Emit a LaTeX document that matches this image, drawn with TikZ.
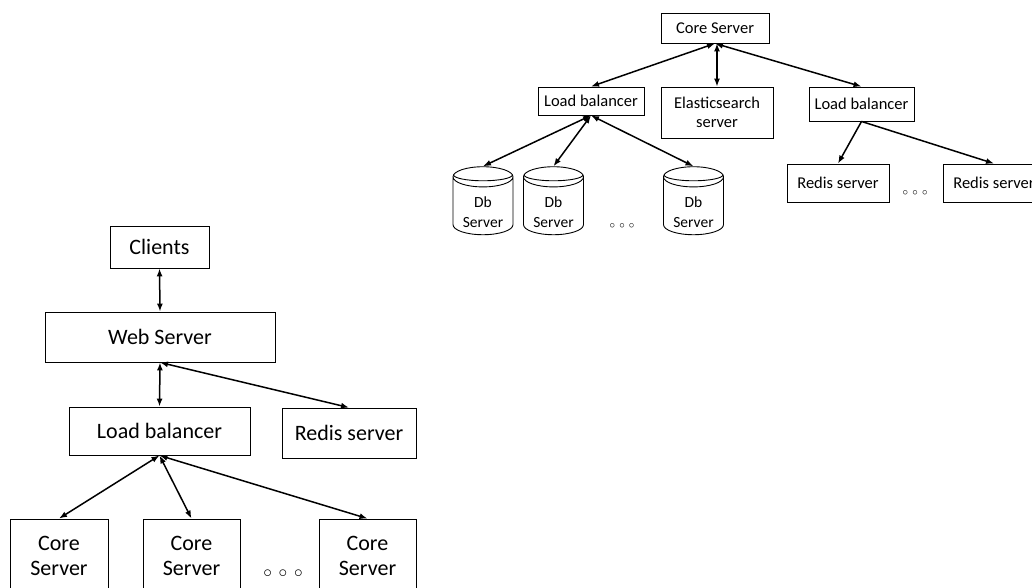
\documentclass[tikz,border=0pt]{standalone}
\usepackage{fontspec}
\setmainfont{Carlito}
\usetikzlibrary{shapes,arrows.meta,positioning}

\newcommand{\dbtext}{\raisebox{-11pt}[0pt][0pt]{\begin{tabular}{@{}c@{}}Db\\Server\end{tabular}}}

\begin{document}
\begin{tikzpicture}[x=1pt,y=-1pt,
            box/.style={rectangle,draw=black,line width=0.9pt,inner sep=0pt,align=center},
            big/.style={box,font=\fontsize{22}{25}\selectfont},
            small/.style={box,font=\fontsize{16.5}{19}\selectfont},
            db/.style={cylinder,draw=black,line width=0.9pt,shape border rotate=90,aspect=0.5,inner sep=0pt,minimum width=60pt,minimum height=68pt,font=\fontsize{15.5}{19.5}\selectfont},
            link/.style={line width=1.5pt,{Latex[length=8pt,width=6pt]}-{Latex[length=8pt,width=6pt]}},
            onelink/.style={line width=1.5pt,-{Latex[length=8pt,width=6pt]}},
            more/.style={inner sep=0pt}]

            \clip (0,0) rectangle (1032,588);

            % left: clients side
            \node[big,minimum width=99pt,minimum height=42pt] (clients) at (159.5,247) {Clients};
            \node[big,minimum width=230pt,minimum height=50pt] (web) at (160,337) {Web Server};
            \node[big,minimum width=181pt,minimum height=48pt] (lbweb) at (159.5,431) {Load balancer};
            \node[big,minimum width=134pt,minimum height=50pt] (redisweb) at (349,433) {Redis server};
            \node[big,minimum width=98pt,minimum height=74pt] (corea) at (59,556) {Core\\Server};
            \node[big,minimum width=97pt,minimum height=74pt] (coreb) at (191.5,556) {Core\\Server};
            \node[big,minimum width=97pt,minimum height=74pt] (corec) at (367.5,556) {Core\\Server};
            \node[more,font=\fontsize{16}{16}\selectfont] (coredots) at (283,574) {$\circ\,\circ\,\circ$};

            \draw[link] (clients.south) -- (web.north);
            \draw[link] (web.south) -- (lbweb.north);
            \draw[link] (web.south) -- (redisweb.north);
            \draw[link] (lbweb.south) -- (corea.north);
            \draw[link] (lbweb.south) -- (coreb.north);
            \draw[link] (lbweb.south) -- (corec.north);

            % right: core server side
            \node[small,minimum width=108pt,minimum height=30pt] (core) at (715,28) {Core Server};
            \node[small,minimum width=106pt,minimum height=28pt] (lbdb) at (591,101) {Load balancer};
            \node[small,minimum width=112pt,minimum height=51pt] (elastic) at (717,112.5) {Elasticsearch\\server};
            \node[small,minimum width=105pt,minimum height=34pt] (lbredis) at (861.5,104) {Load balancer};
            \node[db] (dba) at (483,206) {\dbtext};
            \node[db] (dbb) at (553.5,206) {\dbtext};
            \node[db] (dbc) at (693.5,206) {\dbtext};
            \node[more,font=\fontsize{11}{11}\selectfont] (dbdots) at (622,226) {$\circ\,\circ\,\circ$};
            \node[small,minimum width=102pt,minimum height=38pt] (redisa) at (838,183) {Redis server};
            \node[small,minimum width=102pt,minimum height=38pt] (redisb) at (994,183) {Redis server};
            \node[more,font=\fontsize{11}{11}\selectfont] (redisdots) at (915,193) {$\circ\,\circ\,\circ$};

            % second rim line on the db tops
            \foreach \d in {dba,dbb,dbc}
               \draw[line width=0.9pt] ([xshift=-29.5pt,yshift=-8.5pt]\d.top) arc[start angle=180,end angle=360,x radius=29.5pt,y radius=6pt];

            \draw[link] (core.south) -- (lbdb.north);
            \draw[link] (elastic.north |- core.south) -- (elastic.north);
            \draw[link] (core.south) -- (lbredis.north);
            \draw[link] (lbdb.south) -- (dba.top);
            \draw[link] (lbdb.south) -- (dbb.top);
            \draw[link] (lbdb.south) -- (dbc.top);
            \draw[onelink] (lbredis.south) -- (redisa.north);
            \draw[onelink] (lbredis.south) -- (redisb.north);
         \end{tikzpicture}
\end{document}
